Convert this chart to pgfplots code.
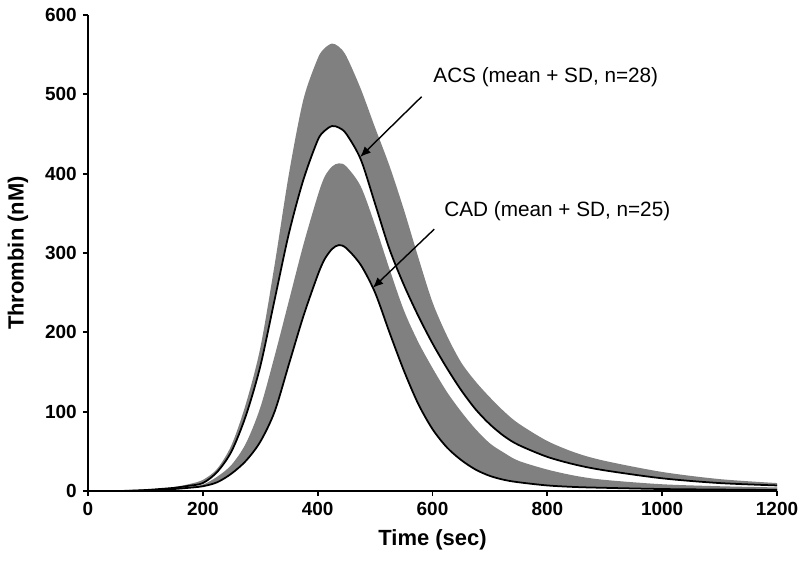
\documentclass[border=0pt]{standalone}
\usepackage{fontspec}
\setmainfont{Liberation Sans}
\usepackage{pgfplots}
\usepackage{pgfplotstable}
\pgfplotsset{compat=1.18}
\usetikzlibrary{arrows.meta}
\definecolor{band}{RGB}{128,128,128}

% columns: time, ACS mean+SD, ACS mean, CAD mean+SD, CAD mean
\pgfplotstableread{
t    au   am   cu   cm
0    0    0    0    0
50   0    0    0    0
75   0.5  0.4  0.3  0.2
100  1.5  1.2  1    0.8
125  3    2.5  2    1.5
150  5    4    3.5  2.5
175  8.5  6.5  5.5  4
200  14   10   8    6
225  28   24   18   11
250  58   50   33   22
275  110  95   60   38
300  180  157  105  62
325  285  241  170  100
350  400  325  240  160
375  493  392  310  220
400  545  442  372  272
412  558  454  396  292
425  564  460  409  305
437  560  458  413  310
450  548  450  409  306
475  507  418  384  285
500  458  362  335  250
525  410  305  280  200
550  355  260  228  152
575  295  221  188  110
600  238  186  155  78
625  196  155  125  55
650  162  127  100  39
675  138  103  78   27
700  118  84   60   19
725  100  69   48   14
750  85   58   38   11
800  63   43   27   7
850  48   33   19   5
900  38   26   14   4
1000 24   16   8.5  2.5
1100 15   10   6    1.8
1200 10   7    4.5  1.2
}\thrombin

\begin{document}
\begin{tikzpicture}
\begin{axis}[
    scale only axis, width=13.78cm, height=9.52cm,
    xmin=0, xmax=1200, ymin=0, ymax=600,
    xtick={0,200,...,1200}, ytick={0,100,...,600},
    axis x line*=bottom, axis y line*=left,
    axis line style={line width=1pt, -},
    tick align=outside, major tick length=0.1cm,
    tick style={line width=1pt, black},
    ticklabel style={font=\fontsize{10.8}{12}\selectfont\bfseries},
    /pgf/number format/assume math mode=true,
    /pgf/number format/1000 sep={},
    xlabel={Time (sec)}, ylabel={Thrombin (nM)},
    label style={font=\fontsize{12.5}{14}\selectfont\bfseries},
    xlabel style={at={(axis description cs:0.5,-0.103)}, anchor=center},
    ylabel style={at={(axis description cs:-0.1016,0.5)}, anchor=center},
    axis on top, clip=false,
]
\addplot[draw=none, fill=band, smooth] table[x=t, y=au] {\thrombin} \closedcycle;
\addplot[draw=none, fill=white, smooth] table[x=t, y=am] {\thrombin} \closedcycle;
\addplot[draw=none, fill=band, smooth] table[x=t, y=cu] {\thrombin} \closedcycle;
\addplot[draw=none, fill=white, smooth] table[x=t, y=cm] {\thrombin} \closedcycle;
\addplot[black, line width=1pt, smooth] table[x=t, y=am] {\thrombin};
\addplot[black, line width=1pt, smooth] table[x=t, y=cm] {\thrombin};

\draw[line width=0.8pt, -{Latex[length=6pt, width=5pt]}] (axis cs:581,497) -- (axis cs:474,421);
\draw[line width=0.8pt, -{Latex[length=6pt, width=5pt]}] (axis cs:603,330) -- (axis cs:496,256);
\node[anchor=west, inner sep=0, font=\fontsize{11.8}{13}\selectfont] at (axis cs:601,522) {ACS (mean + SD, n=28)};
\node[anchor=west, inner sep=0, font=\fontsize{11.8}{13}\selectfont] at (axis cs:620,353) {CAD (mean + SD, n=25)};
\end{axis}
\pgfresetboundingbox
\path[use as bounding box] (-1.76,-1.70) rectangle (14.24,9.82);
\end{tikzpicture}
\end{document}
